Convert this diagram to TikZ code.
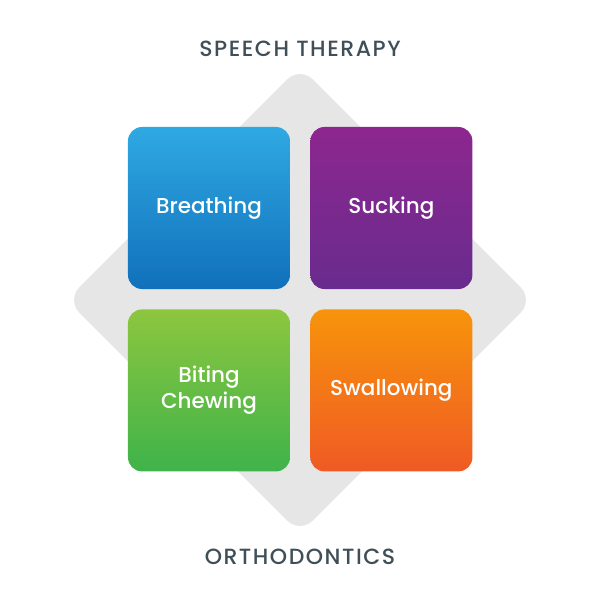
\documentclass[tikz,border=0pt]{standalone}
\usepackage{fontspec}
\setmainfont{Poppins}[BoldFont={Poppins Medium}]
\newfontfamily\titlefont{Poppins Medium}[LetterSpace=7]
\usepackage{tikz}
\usetikzlibrary{positioning}
\definecolor{titlegray}{HTML}{3F4E57}
\definecolor{basegray}{HTML}{E6E6E6}
\definecolor{blueTop}{HTML}{2FA9E2}
\definecolor{blueBot}{HTML}{1170BB}
\definecolor{purpleTop}{HTML}{8D278F}
\definecolor{purpleBot}{HTML}{692B8E}
\definecolor{greenTop}{HTML}{8DC63F}
\definecolor{greenBot}{HTML}{3FB34A}
\definecolor{orangeTop}{HTML}{F7940B}
\definecolor{orangeBot}{HTML}{EF5A24}

\begin{document}
\begin{tikzpicture}[x=1pt, y=1pt, node distance=20pt,
  box/.style={rectangle, rounded corners=14pt, minimum size=162pt, inner sep=0pt, text=white, align=center, font=\fontsize{21.5}{26}\selectfont\bfseries},
  title/.style={text=titlegray, font=\titlefont\fontsize{22}{24}\selectfont}]
	  \useasboundingbox (-300,-300) rectangle (300,300);
	  % grey diamond behind the four boxes
	  \node[fill=basegray, rotate=45, minimum size=330pt, rounded corners=18pt, inner sep=0pt] (base) at (0,0) {};
	  \node[box, top color=blueTop, bottom color=blueBot] (breath) at (-91,92) {Breathing};
	  \node[box, top color=purpleTop, bottom color=purpleBot] (suck) [right = of breath] {Sucking};
	  \node[box, top color=greenTop, bottom color=greenBot] (bite) [below = of breath] {Biting\\Chewing};
	  \node[box, top color=orangeTop, bottom color=orangeBot] (swallow) [right = of bite] {Swallowing};
	  \node[title] (speech) at (0,251) {SPEECH THERAPY};
	  \node[title] (ortho) at (0,-257) {ORTHODONTICS};
	\end{tikzpicture}
\end{document}
